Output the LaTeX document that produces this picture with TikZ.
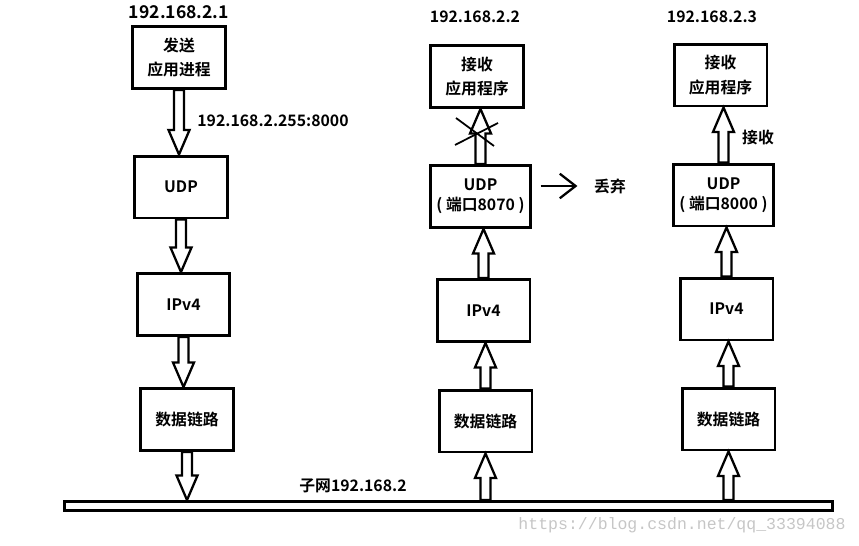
\documentclass[tikz,border=0pt]{standalone}
\usepackage{fontspec}
\setmainfont{Noto Sans CJK SC}[BoldFont=* Bold]
\setmonofont{Liberation Mono}
\usetikzlibrary{calc,arrows.meta}

\tikzset{
  layer/.style={draw, line width=1.7pt, minimum width=1.86cm, minimum height=1.24cm,
    align=center, font=\bfseries\fontsize{9}{14}\selectfont},
  hollow/.style={draw, line width=1.3pt, fill=white, line join=miter},
  tag/.style={font=\bfseries\fontsize{9}{11}\selectfont},
  watermark/.style={font=\ttfamily\fontsize{9.4}{10}\selectfont, text=gray!45},
}

% hollow block arrow from #1 to #2
\newcommand{\blockarrow}[2]{%
  \coordinate (ba-s) at (#1);
  \coordinate (ba-t) at (#2);
  \coordinate (ba-h) at ($(ba-t)!14pt!(ba-s)$);
  \draw[hollow] ($(ba-s)!2.8pt!90:(ba-t)$) -- ($(ba-h)!2.8pt!90:(ba-t)$)
    -- ($(ba-h)!6pt!90:(ba-t)$) -- (ba-t) -- ($(ba-h)!6pt!-90:(ba-t)$)
    -- ($(ba-h)!2.8pt!-90:(ba-t)$) -- ($(ba-s)!2.8pt!-90:(ba-t)$) -- cycle;
}

\begin{document}
\begin{tikzpicture}[x=0.02cm, y=-0.02cm]

        \useasboundingbox (0,0) rectangle (859,545);

        % Sending host 192.168.2.1
        \node[tag, font=\bfseries\fontsize{10}{12}\selectfont] (AddrA) at (179,12) {192.168.2.1};
        \node[layer] (AppA) at (179,57.5) {发送\\应用进程};
        \node[layer] (UdpA) at (181,187) {UDP};
        \node[layer] (IpA) at (183.5,304.5) {IPv4};
        \node[layer] (LinkA) at (187,419.5) {数据链路};
        \node[tag] (Dest) at (273,121) {192.168.2.255:8000};

        % Receiving host 192.168.2.2
        \node[tag] (AddrB) at (475,17) {192.168.2.2};
        \node[layer] (AppB) at (477,76.5) {接收\\应用程序};
        \node[layer, font=\bfseries\fontsize{9}{11.5}\selectfont] (UdpB) at (480.5,196.5) {UDP\\( 端口8070 )};
        \node[layer] (IpB) at (483.5,310.5) {IPv4};
        \node[layer] (LinkB) at (485.5,421) {数据链路};
        \node[tag] (Drop) at (610,186) {丢弃};

        % Receiving host 192.168.2.3
        \node[tag] (AddrC) at (712,17) {192.168.2.3};
        \node[layer] (AppC) at (720.5,75) {接收\\应用程序};
        \node[layer, font=\bfseries\fontsize{9}{11.5}\selectfont] (UdpC) at (723.5,195) {UDP\\( 端口8000 )};
        \node[layer] (IpC) at (726.5,309) {IPv4};
        \node[layer] (LinkC) at (728.5,419) {数据链路};
        \node[tag] (Take) at (758,138) {接收};

        % Subnet
        \node[draw, line width=1.7pt, inner sep=0pt, minimum width=15.36cm, minimum height=0.18cm] (Subnet) at (448.5,506) {};
        \node[tag] (SubnetName) at (353,486) {子网192.168.2};
        \node[watermark] (Mark) at (682,525) {https://blog.csdn.net/qq\_33394088};

        % Going down the stack
        \blockarrow{AppA.south}{AppA.south |- UdpA.north}
        \blockarrow{UdpA.south}{UdpA.south |- IpA.north}
        \blockarrow{IpA.south}{IpA.south |- LinkA.north}
        \blockarrow{LinkA.south}{LinkA.south |- Subnet.north}

        % Going up the stacks
        \blockarrow{LinkB.south |- Subnet.north}{LinkB.south}
        \blockarrow{IpB.north}{IpB.north |- UdpB.south}
        \blockarrow{LinkB.north}{LinkB.north |- IpB.south}
        \blockarrow{UdpB.north}{UdpB.north |- AppB.south}
        \blockarrow{LinkC.south |- Subnet.north}{LinkC.south}
        \blockarrow{LinkC.north}{LinkC.north |- IpC.south}
        \blockarrow{IpC.north}{IpC.north |- UdpC.south}
        \blockarrow{UdpC.north}{UdpC.north |- AppC.south}

        % Blocked delivery and discard
        \draw[line width=1pt] ($(AppB.south)+(-21,9)$) -- ($(AppB.south)+(17,37)$);
        \draw[line width=1pt] ($(AppB.south)+(-22,36)$) -- ($(AppB.south)+(21,14)$);
        \draw[line width=1.3pt, -{Straight Barb[length=9pt,width=14pt]}, shorten <=5pt, shorten >=6pt] (UdpB.east |- Drop.west) -- (Drop.west);

\end{tikzpicture}
\end{document}
